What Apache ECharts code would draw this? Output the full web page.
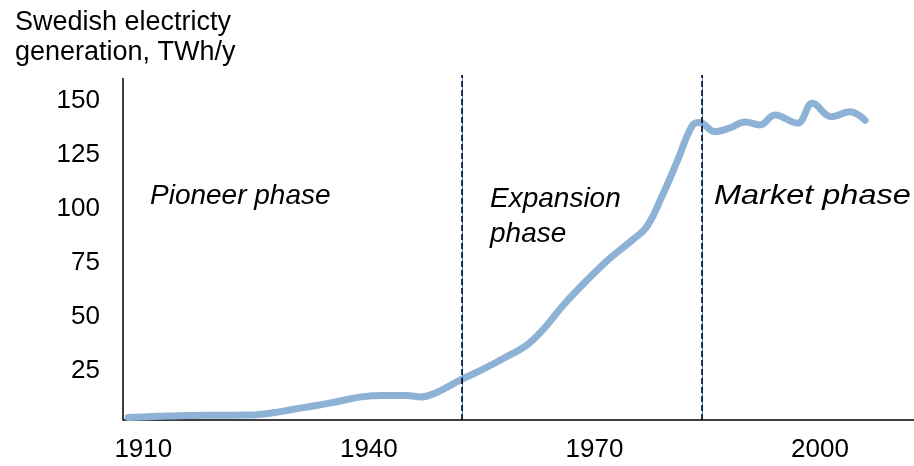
<!DOCTYPE html>
<html>
<head>
<meta charset="utf-8">
<script src="https://cdn.jsdelivr.net/npm/echarts@6/dist/echarts.min.js"></script>
<style>
  html, body { margin: 0; padding: 0; background: #fff; }
  #chart { width: 914px; height: 466px; }
</style>
</head>
<body>
<div id="chart"></div>
<script>
// ---- data ----
const years = [1908, 1912, 1916, 1920, 1924, 1927, 1930, 1933, 1936, 1939, 1942, 1945, 1947, 1949, 1952, 1955, 1958, 1961, 1963, 1966, 1969, 1972, 1975, 1977, 1979, 1981, 1983, 1984, 1986, 1988, 1990, 1992, 1994, 1997, 1999, 2001.5, 2004, 2006];
const generation = [3.5, 4.0, 4.4, 4.5, 4.6, 5.5, 7.3, 9.0, 11.0, 13.0, 13.6, 13.6, 13.0, 15.0, 20.5, 25.5, 31.0, 37.0, 43.5, 56.0, 67.0, 77.0, 85.5, 92.0, 106.0, 122.0, 138.5, 140.0, 135.8, 137.5, 140.3, 138.9, 143.5, 139.7, 148.9, 142.7, 145.0, 141.0];
const xTickLabels = [1910, 1940, 1970, 2000];
const yTickLabels = [25, 50, 75, 100, 125, 150];
const phaseBoundaries = [1952.4, 1984.3];
const titleText = 'Swedish electricty\ngeneration, TWh/y';
const phaseNames = ['Pioneer phase', 'Expansion\nphase', 'Market phase'];

const FONT = '"Liberation Sans", Arial, sans-serif';
const chart = echarts.init(document.getElementById('chart'));

const xMin = 1907.3, xMax = 2012.5;
const yMin = 2.3, yMax = 162, yAxisTop = 160.6;

const markData = [
  // y axis line
  [
    { coord: [xMin, yMin], lineStyle: { color: '#000', width: 1.5, type: 'solid' } },
    { coord: [xMin, yAxisTop] }
  ]
];
phaseBoundaries.forEach(function (b) {
  markData.push({ xAxis: b, lineStyle: { color: '#3f8fe0', width: 1, type: 'solid' } });
});
phaseBoundaries.forEach(function (b) {
  markData.push({ xAxis: b, lineStyle: { color: '#000', width: 1.5, type: [6, 3] } });
});

const option = {
  animation: false,
  backgroundColor: '#fff',
  title: {
    text: titleText,
    left: 10,
    top: 3,
    textStyle: { fontFamily: FONT, fontSize: 27, fontWeight: 'normal', color: '#000', lineHeight: 30 }
  },
  grid: { left: 123, right: 0, top: 75, bottom: 46, containLabel: false },
  xAxis: {
    type: 'value',
    min: xMin,
    max: xMax,
    splitLine: { show: false },
    axisTick: { show: false },
    axisLine: { show: true, lineStyle: { color: '#000', width: 1.5 } },
    axisLabel: {
      customValues: xTickLabels,
      formatter: function (v) { return String(v); },
      margin: 17,
      fontFamily: FONT, fontSize: 26, color: '#000'
    }
  },
  yAxis: {
    type: 'value',
    min: yMin,
    max: yMax,
    splitLine: { show: false },
    axisTick: { show: false },
    axisLine: { show: false },
    axisLabel: {
      customValues: yTickLabels,
      formatter: function (v) { return String(v); },
      margin: 23,
      fontFamily: FONT, fontSize: 26, color: '#000'
    }
  },
  series: [{
    type: 'line',
    data: years.map(function (y, i) { return [y, generation[i]]; }),
    smooth: 0.4,
    showSymbol: false,
    clip: false,
    lineStyle: { color: '#8db2d6', width: 7, cap: 'round', join: 'round' },
    markLine: {
      silent: true,
      symbol: 'none',
      label: { show: false },
      data: markData
    }
  }],
  graphic: [
    { type: 'text', left: 150, top: 182, style: { text: phaseNames[0], font: 'italic 28px ' + FONT, fill: '#000' } },
    { type: 'text', left: 490, top: 182, style: { text: phaseNames[1], font: 'italic 28px ' + FONT, fill: '#000', lineHeight: 35 } },
    { type: 'text', x: 714, y: 182, scaleX: 1.16, style: { text: phaseNames[2], font: 'italic 28px ' + FONT, fill: '#000' } }
  ]
};
chart.setOption(option);
</script>
</body>
</html>
